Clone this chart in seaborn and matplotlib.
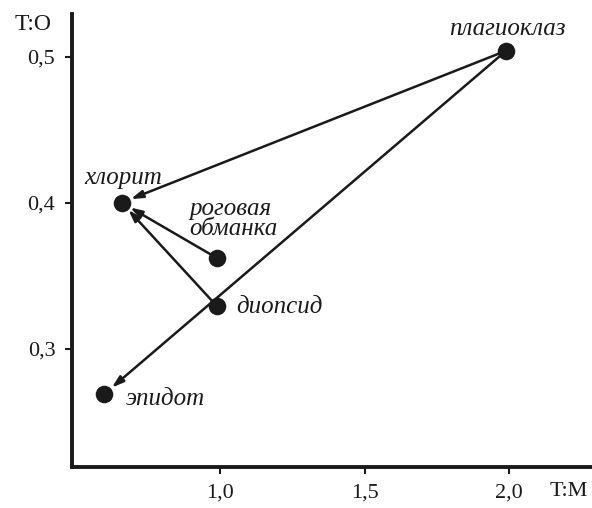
import matplotlib
matplotlib.use("Agg")
import matplotlib.pyplot as plt
import seaborn as sns
import pandas as pd

minerals = ["плагиоклаз", "хлорит", "роговая\nобманка", "диопсид", "эпидот"]
t_m = [1.99, 0.66, 0.99, 0.99, 0.60]
t_o = [0.504, 0.400, 0.362, 0.329, 0.269]
arrow_from = ["плагиоклаз", "плагиоклаз", "роговая\nобманка", "диопсид"]
arrow_to = ["хлорит", "эпидот", "хлорит", "хлорит"]
x_ticks = [1.0, 1.5, 2.0]
x_ticklabels = ["1,0", "1,5", "2,0"]
y_ticks = [0.3, 0.4, 0.5]
y_ticklabels = ["0,3", "0,4", "0,5"]

sns.set_style("ticks")
plt.rcParams["font.family"] = ["Liberation Serif", "DejaVu Serif"]

df = pd.DataFrame({"mineral": minerals, "T:M": t_m, "T:O": t_o})

fig = plt.figure(figsize=(5.92, 5.08), dpi=100)
ax = fig.add_axes([0.1216, 0.0807, 0.8784, 0.8913])

sns.scatterplot(data=df, x="T:M", y="T:O", ax=ax, s=160, color="#1a1a1a",
                edgecolor="#1a1a1a", linewidth=0, zorder=3, legend=False)

pos = {m: (x, y) for m, x, y in zip(minerals, t_m, t_o)}
for a, b in zip(arrow_from, arrow_to):
    ax.annotate("", xy=pos[b], xytext=pos[a],
                arrowprops=dict(arrowstyle="-|>,head_length=0.7,head_width=0.22",
                                color="#1a1a1a", lw=1.8,
                                shrinkA=0, shrinkB=7),
                zorder=2)

offsets = {
    "плагиоклаз": ((1, 22), "center"),
    "хлорит": ((1, 25), "center"),
    "роговая\nобманка": ((-28, 39), "left"),
    "диопсид": ((19, -1), "left"),
    "эпидот": ((22, -5), "left"),
}
for m in minerals:
    off, ha = offsets[m]
    ax.annotate(m, xy=pos[m], xytext=off, textcoords="offset pixels",
                ha=ha, va="center", fontsize=18, fontstyle="italic",
                color="#1a1a1a", linespacing=0.9)

ax.set_xlim(0.488, 2.287)
ax.set_ylim(0.219, 0.529)
ax.set_xticks(x_ticks)
ax.set_xticklabels(x_ticklabels)
ax.set_yticks(y_ticks)
ax.set_yticklabels(y_ticklabels)
ax.tick_params(axis="both", labelsize=16, length=5, width=1.5, colors="#1a1a1a", pad=7)
ax.set_xlabel("")
ax.set_ylabel("")
for side in ["top", "right"]:
    ax.spines[side].set_visible(False)
for side in ["left", "bottom"]:
    ax.spines[side].set_linewidth(2.8)
    ax.spines[side].set_color("#1a1a1a")

fig.text(15 / 592, 1 - 25 / 508, "T:O", fontsize=17, ha="left", va="center", color="#1a1a1a")
fig.text(588 / 592, 1 - 492 / 508, "T:M", fontsize=16, ha="right", va="center", color="#1a1a1a")

fig.savefig("out.png", dpi=100, facecolor="white")
